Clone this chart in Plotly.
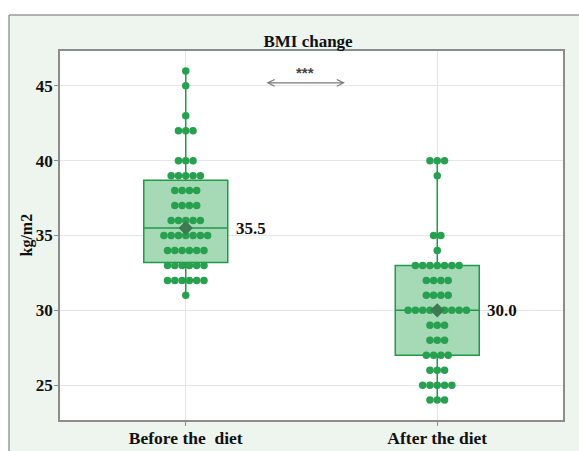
import plotly.graph_objects as go

# ---- data ----
categories = ["Before the\u00a0 diet", "After the diet"]
before_vals = [31, 32, 33, 34, 35, 36, 37, 38, 39, 40, 42, 43, 45, 46]
before_counts = [1, 6, 6, 6, 7, 5, 4, 4, 5, 3, 3, 1, 1, 1]
after_vals = [24, 25, 26, 27, 28, 29, 30, 31, 32, 33, 34, 35, 39, 40]
after_counts = [3, 5, 3, 4, 3, 3, 9, 4, 4, 7, 1, 2, 1, 3]
q1 = [33.2, 27.0]
medians = [35.5, 30.0]
q3 = [38.7, 33.0]
lower = [31, 24]
upper = [46, 40]
means = [35.5, 30.0]
median_labels = ["35.5", "30.0"]
y_ticks = [25, 30, 35, 40, 45]

W, H = 579, 451
ML, MR, MT, MB = 60, 16, 51, 31
PW, PH = W - ML - MR, H - MT - MB

def px2x(px):
    return (px - ML) / PW

def py2y(py):
    return 1 - (py - MT) / PH

GREEN = "#27a04f"
LINE = "#1f9a48"
FILL = "#a6d9b5"
FONT = "Liberation Serif"

xpos = [0, 1]
spacing = 0.029

fig = go.Figure()

fig.add_trace(go.Box(
    x=xpos, q1=q1, median=medians, q3=q3, lowerfence=lower, upperfence=upper,
    width=0.334, fillcolor=FILL, line=dict(color=LINE, width=1.5),
    boxpoints=False, whiskerwidth=0, showlegend=False, hoverinfo="skip",
))

for xc, vals, counts in [(0, before_vals, before_counts), (1, after_vals, after_counts)]:
    xs, ys = [], []
    for v, n in zip(vals, counts):
        for k in range(n):
            xs.append(xc + (k - (n - 1) / 2) * spacing)
            ys.append(v)
    fig.add_trace(go.Scatter(x=xs, y=ys, mode="markers",
                             marker=dict(color=GREEN, size=7.5, line=dict(width=0)),
                             showlegend=False, hoverinfo="skip"))

fig.add_trace(go.Scatter(x=xpos, y=means, mode="markers",
                         marker=dict(symbol="diamond", color="#3c7a52", size=11),
                         showlegend=False, hoverinfo="skip"))

annotations = []
for xc, m, lab in zip(xpos, medians, median_labels):
    annotations.append(dict(x=xc + 0.19, y=m, text="<b>%s</b>" % lab, showarrow=False, xanchor="left",
                            font=dict(family=FONT, size=17, color="#111"), xref="x", yref="y"))

# significance arrow
annotations.append(dict(x=0.633, y=45.2, ax=0.315, ay=45.2, axref="x", ayref="y", xref="x", yref="y",
                        showarrow=True, arrowhead=5, startarrowhead=5, arrowside="end+start",
                        arrowsize=1.2, startarrowsize=1.2, arrowwidth=1.1, arrowcolor="#7a7a7a", text=""))
annotations.append(dict(x=0.474, y=45.2, text="<b>***</b>", showarrow=False, yshift=10,
                        font=dict(family="Liberation Sans", size=15, color="#444"), xref="x", yref="y"))
# y-axis title
annotations.append(dict(x=px2x(26), y=35, xref="paper", yref="y", xanchor="center", yanchor="middle",
                        text="<b>kg/m2</b>", textangle=-90,
                        showarrow=False, font=dict(family=FONT, size=16, color="#111")))

shapes = [
    dict(type="rect", xref="paper", yref="paper", x0=px2x(-5), x1=px2x(W + 5), y0=py2y(15), y1=py2y(-5),
         fillcolor="white", line=dict(width=0), layer="above"),
    dict(type="rect", xref="paper", yref="paper", x0=px2x(-5), x1=px2x(9), y0=py2y(H + 5), y1=py2y(-5),
         fillcolor="white", line=dict(width=0), layer="above"),
    dict(type="line", xref="paper", yref="paper", x0=px2x(9), x1=px2x(W + 5), y0=py2y(15), y1=py2y(15),
         line=dict(color="#9a9a9a", width=1.5), layer="above"),
    dict(type="line", xref="paper", yref="paper", x0=px2x(9), x1=px2x(9), y0=py2y(15), y1=py2y(H + 5),
         line=dict(color="#9a9a9a", width=1.5), layer="above"),
]

fig.update_layout(
    width=W, height=H, margin=dict(l=ML, r=MR, t=MT, b=MB),
    paper_bgcolor="#eef4ee", plot_bgcolor="white",
    title=dict(text="<b>BMI change</b>", x=px2x(308), xref="paper", xanchor="center",
               y=1 - 41 / H, yref="container", yanchor="middle",
               font=dict(family=FONT, size=17, color="#111")),
    annotations=annotations, shapes=shapes,
    xaxis=dict(range=[-0.5, 1.5], tickvals=xpos, ticktext=["<b>%s</b>" % c for c in categories],
               showgrid=True, gridcolor="#e6e6e6", gridwidth=1, zeroline=False,
               showline=True, mirror=True, linecolor="#8c8c8c", linewidth=1.5,
               ticks="outside", ticklen=4, tickcolor="#8c8c8c", ticklabelstandoff=-3,
               tickfont=dict(family=FONT, size=17.5, color="#111"), automargin=False),
    yaxis=dict(range=[22.67, 47.33], tickvals=y_ticks, ticktext=["<b>%d</b>" % t for t in y_ticks],
               showgrid=True, gridcolor="#e6e6e6", gridwidth=1, zeroline=False,
               showline=True, mirror=True, linecolor="#8c8c8c", linewidth=1.5,
               ticks="outside", ticklen=4, tickcolor="#8c8c8c", ticklabelstandoff=-2,
               tickfont=dict(family=FONT, size=17, color="#111"), automargin=False),
)

fig.write_html("out.html", config={"displayModeBar": False},
               post_script="document.body.style.margin='0';")
